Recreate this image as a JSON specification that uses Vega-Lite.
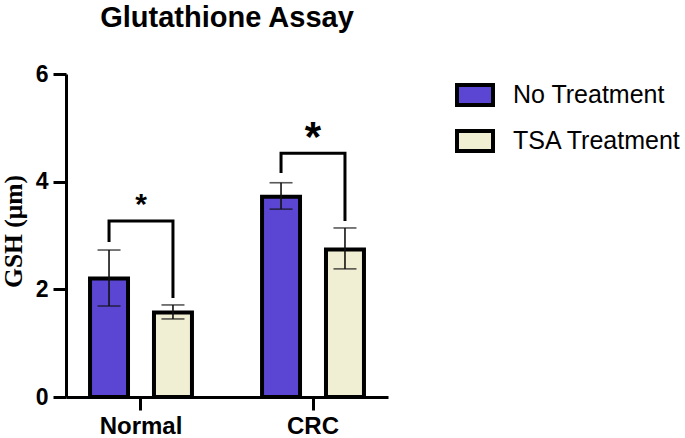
{
  "$schema": "https://vega.github.io/schema/vega-lite/v6.json",
  "autosize": "none",
  "width": 322,
  "height": 323,
  "padding": {"left": 66, "top": 74, "right": 297, "bottom": 41},
  "background": "white",
  "title": {
    "text": "Glutathione Assay",
    "font": "Liberation Sans",
    "fontSize": 29,
    "fontWeight": "bold",
    "color": "black",
    "anchor": "middle",
    "offset": 30
  },
  "datasets": {
    "gsh": [
      {"group": "Normal", "treatment": "No Treatment", "mean": 2.2, "lo": 1.69, "hi": 2.73},
      {"group": "Normal", "treatment": "TSA Treatment", "mean": 1.57, "lo": 1.45, "hi": 1.71},
      {"group": "CRC", "treatment": "No Treatment", "mean": 3.72, "lo": 3.49, "hi": 3.98},
      {"group": "CRC", "treatment": "TSA Treatment", "mean": 2.74, "lo": 2.38, "hi": 3.14}
    ],
    "brackets": [
      {"pair": "Normal", "group": "Normal", "treatment": "No Treatment", "y": 2.88, "seq": 0},
      {"pair": "Normal", "group": "Normal", "treatment": "No Treatment", "y": 3.27, "seq": 1},
      {"pair": "Normal", "group": "Normal", "treatment": "TSA Treatment", "y": 3.27, "seq": 2},
      {"pair": "Normal", "group": "Normal", "treatment": "TSA Treatment", "y": 1.84, "seq": 3},
      {"pair": "CRC", "group": "CRC", "treatment": "No Treatment", "y": 4.16, "seq": 0},
      {"pair": "CRC", "group": "CRC", "treatment": "No Treatment", "y": 4.53, "seq": 1},
      {"pair": "CRC", "group": "CRC", "treatment": "TSA Treatment", "y": 4.53, "seq": 2},
      {"pair": "CRC", "group": "CRC", "treatment": "TSA Treatment", "y": 3.27, "seq": 3}
    ],
    "stars": [
      {"group": "Normal", "y": 3.66, "label": "*"},
      {"group": "CRC", "y": 4.9, "label": "*"}
    ]
  },
  "encoding": {
    "x": {
      "field": "group",
      "type": "nominal",
      "sort": ["Normal", "CRC"],
      "scale": {"domain": ["Normal", "CRC"], "paddingInner": 0.4, "paddingOuter": 0.136},
      "axis": {
        "title": null,
        "labelAngle": 0,
        "labelFont": "Liberation Sans",
        "labelFontWeight": "bold",
        "labelFontSize": 24,
        "labelColor": "black",
        "labelPadding": 4,
        "tickSize": 13
      }
    }
  },
  "layer": [
    {
      "data": {"name": "gsh"},
      "mark": {"type": "bar", "stroke": "black", "strokeWidth": 4},
      "encoding": {
        "xOffset": {
          "field": "treatment",
          "type": "nominal",
          "scale": {"domain": ["No Treatment", "TSA Treatment"], "paddingInner": 0.406, "paddingOuter": 0.01}
        },
        "y": {
          "field": "mean",
          "type": "quantitative",
          "scale": {"domain": [0, 6], "nice": false, "zero": true},
          "axis": {
            "title": "GSH (μm)",
            "values": [0, 2, 4, 6],
            "format": "d",
            "titleFont": "Liberation Serif",
            "titleFontWeight": "bold",
            "titleFontSize": 25.5,
            "titleColor": "black",
            "titleAngle": -90,
            "titleAlign": "center",
            "titleBaseline": "bottom",
            "titleX": -40,
            "titleY": 157,
            "labelFont": "Liberation Sans",
            "labelFontWeight": "bold",
            "labelFontSize": 23,
            "labelColor": "black",
            "labelPadding": 5,
            "tickSize": 13
          }
        },
        "fill": {
          "field": "treatment",
          "type": "nominal",
          "scale": {"domain": ["No Treatment", "TSA Treatment"], "range": ["#5a46d2", "#f1efd3"]},
          "legend": {
            "title": null,
            "orient": "none",
            "legendX": 389,
            "legendY": 1,
            "symbolType": "M-1,-0.555H1V0.555H-1Z",
            "symbolSize": 1296,
            "symbolStrokeWidth": 4,
            "symbolStrokeColor": "black",
            "labelFont": "Liberation Sans",
            "labelFontSize": 25,
            "labelColor": "black",
            "labelOffset": 18,
            "labelLimit": 0,
            "rowPadding": 8,
            "padding": 0
          }
        }
      }
    },
    {
      "data": {"name": "gsh"},
      "mark": {"type": "rule", "color": "#111111", "strokeWidth": 1.6},
      "encoding": {
        "xOffset": {"field": "treatment", "type": "nominal"},
        "y": {"field": "lo", "type": "quantitative"},
        "y2": {"field": "hi"}
      }
    },
    {
      "data": {"name": "gsh"},
      "mark": {"type": "tick", "color": "#111111", "thickness": 1.6, "size": 23, "orient": "horizontal"},
      "encoding": {
        "xOffset": {"field": "treatment", "type": "nominal"},
        "y": {"field": "hi", "type": "quantitative"}
      }
    },
    {
      "data": {"name": "gsh"},
      "mark": {"type": "tick", "color": "#111111", "thickness": 1.6, "size": 23, "orient": "horizontal"},
      "encoding": {
        "xOffset": {"field": "treatment", "type": "nominal"},
        "y": {"field": "lo", "type": "quantitative"}
      }
    },
    {
      "data": {"name": "brackets"},
      "mark": {"type": "line", "color": "black", "strokeWidth": 3, "strokeJoin": "miter", "strokeCap": "butt"},
      "encoding": {
        "xOffset": {"field": "treatment", "type": "nominal"},
        "y": {"field": "y", "type": "quantitative"},
        "detail": {"field": "pair"},
        "order": {"field": "seq", "type": "quantitative"}
      }
    },
    {
      "data": {"name": "stars"},
      "mark": {"type": "text", "font": "Liberation Sans", "fontWeight": "bold", "color": "black", "baseline": "middle", "align": "center", "dy": 5},
      "encoding": {
        "y": {"field": "y", "type": "quantitative"},
        "text": {"field": "label"},
        "size": {
          "field": "group",
          "type": "nominal",
          "scale": {"domain": ["Normal", "CRC"], "range": [30, 42]},
          "legend": null
        }
      }
    }
  ],
  "config": {
    "view": {"stroke": null},
    "axis": {
      "grid": false,
      "domainColor": "black",
      "domainWidth": 3,
      "tickColor": "black",
      "tickWidth": 3
    }
  }
}
